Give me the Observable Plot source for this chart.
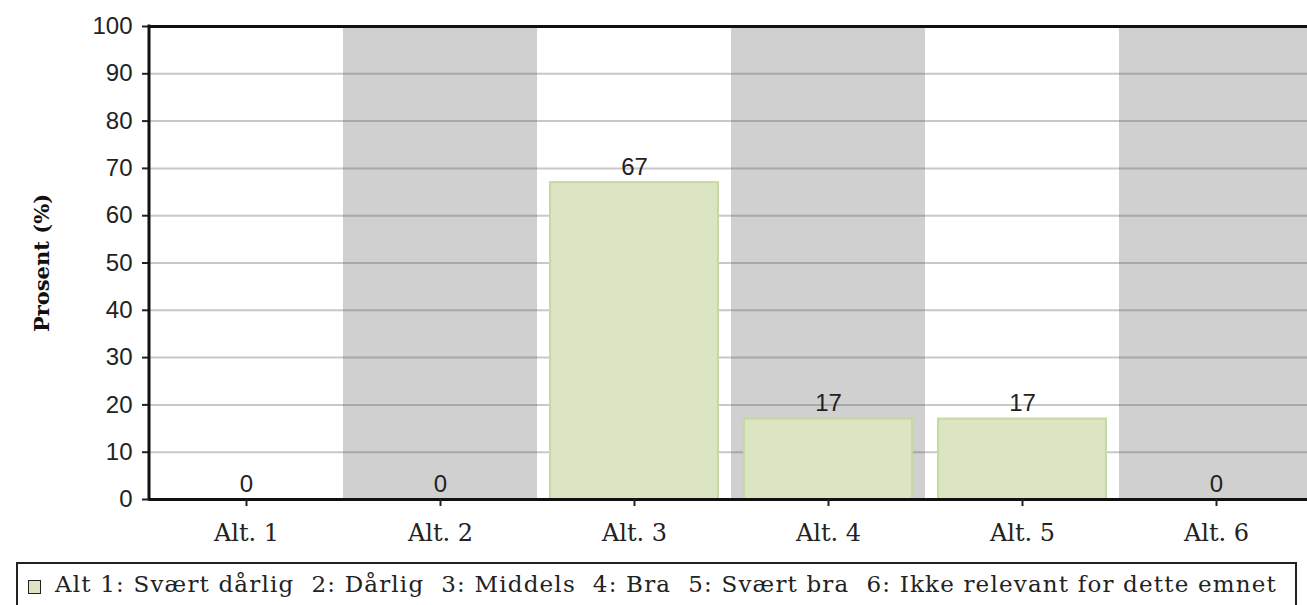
<!DOCTYPE html>
<html>
<head>
<meta charset="utf-8">
<script src="https://cdn.jsdelivr.net/npm/d3@7"></script>
<script src="https://cdn.jsdelivr.net/npm/@observablehq/plot@0.6"></script>
<style>
  html, body { margin: 0; padding: 0; background: #fff; }
  #chart svg { display: block; overflow: visible; }
  #legend {
    position: absolute; left: 16px; top: 562px; width: 1281px; height: 60px;
    border: 2px solid #222; box-sizing: border-box;
    font-family: "DejaVu Serif", serif; font-size: 23px; color: #222;
    white-space: pre; line-height: 1;
  }
  #legend .sw {
    position: absolute; left: 10px; top: 16px; width: 13px; height: 14px;
    background: #dbe5c3; border: 1.5px solid #222; box-sizing: border-box;
  }
  #legend .tx { position: absolute; left: 37px; top: 9px; }
</style>
</head>
<body>
<div id="chart"></div>
<div id="legend"><span class="sw"></span><span class="tx"></span></div>
<script>
const categories = ["Alt. 1", "Alt. 2", "Alt. 3", "Alt. 4", "Alt. 5", "Alt. 6"];
const values = [0, 0, 67, 17, 17, 0];
const yTicks = [0, 10, 20, 30, 40, 50, 60, 70, 80, 90, 100];
const yTitle = "Prosent (%)";
const legendText = "Alt 1: Svært dårlig  2: Dårlig  3: Middels  4: Bra  5: Svært bra  6: Ikke relevant for dette emnet";

const data = categories.map((c, i) => ({cat: c, value: values[i]}));
const shaded = categories.filter((c, i) => i % 2 === 1);

const chart = Plot.plot({
  width: 1307,
  height: 560,
  marginTop: 26,
  marginBottom: 61,
  marginLeft: 149,
  marginRight: 0,
  style: {color: "#222", background: "transparent"},
  x: {domain: categories, range: [149, 1313], padding: 0, label: null},
  y: {domain: [0, 100], label: null},
  marks: [
    Plot.barY(shaded, {x: d => d, y1: 0, y2: 100, fill: "#d0d0d0"}),
    Plot.ruleY(yTicks.filter(t => t > 0 && t < 100), {stroke: "#555", strokeOpacity: 0.32, strokeWidth: 2}),
    Plot.barY(data.filter(d => d.value > 0), {x: "cat", y: "value", fill: "#dbe5c3", stroke: "#c6da9f", strokeWidth: 2, insetLeft: 13, insetRight: 13}),
    Plot.text(data, {x: "cat", y: "value", text: d => String(d.value), dy: -8, lineAnchor: "bottom", fontSize: 24, fontFamily: "Liberation Sans", fill: "#222"}),
    Plot.ruleY([100], {stroke: "#111", strokeWidth: 3}),
    Plot.ruleY([0], {stroke: "#111", strokeWidth: 3}),
    Plot.axisY({ticks: yTicks, tickSize: 7, tickPadding: 10, fontSize: 24, fontFamily: "Liberation Sans", label: null, strokeWidth: 2}),
    Plot.axisX({tickSize: 7, tickPadding: 17, fontSize: 24, fontFamily: "DejaVu Serif", label: null, strokeWidth: 2}),
    Plot.text([yTitle], {text: d => d, frameAnchor: "left", textAnchor: "middle", rotate: -90, dx: -107, fontWeight: "bold", fontFamily: "DejaVu Serif", fontSize: 21, fill: "#111"})
  ]
});
document.getElementById("chart").appendChild(chart);

// left axis line through the y scale
const ys = chart.scale("y");
d3.select(chart).append("line")
  .attr("x1", 149).attr("x2", 149)
  .attr("y1", ys.apply(0) + 1.5).attr("y2", ys.apply(100) - 1.5)
  .attr("stroke", "#111").attr("stroke-width", 3);

// legend text, letter-spaced to span the box like the reference
const tx = document.querySelector("#legend .tx");
tx.textContent = legendText;
const target = 1222;
const w = tx.getBoundingClientRect().width;
const n = legendText.length;
tx.style.letterSpacing = ((target - w) / n).toFixed(2) + "px";
</script>
</body>
</html>
